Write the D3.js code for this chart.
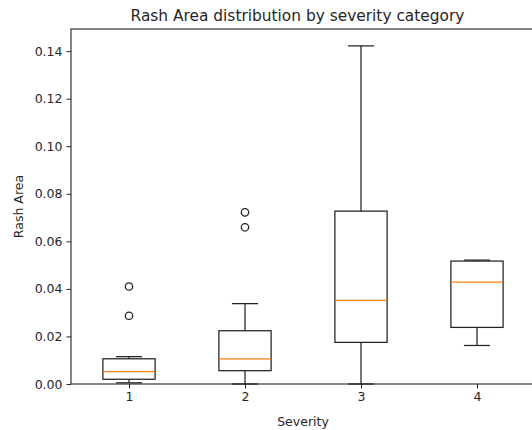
<!DOCTYPE html>
<html>
<head>
<meta charset="utf-8" />
<title>Rash Area distribution by severity category</title>
<script src="https://d3js.org/d3.v7.min.js"></script>
<style>
  body { margin: 0; background: #fff; }
  text { font-family: "DejaVu Sans", sans-serif; fill: #262626; }
</style>
</head>
<body>
<div id="chart"></div>
<script>
// box statistics
const categories = ["1", "2", "3", "4"];
const whiskerLow = [0.0005, 0.0, 0.0, 0.0162];
const q1 = [0.0020, 0.0056, 0.0175, 0.0238];
const median = [0.0052, 0.0106, 0.0352, 0.0428];
const q3 = [0.0106, 0.0224, 0.0727, 0.0517];
const whiskerHigh = [0.0115, 0.0338, 0.1422, 0.0521];
const outliers = [[0.0287, 0.0410], [0.0659, 0.0722], [], []];
const yTicks = [0, 0.02, 0.04, 0.06, 0.08, 0.10, 0.12, 0.14];

const W = 532, H = 430;
const margin = { top: 29, right: -3, bottom: 46, left: 71 };
const width = W - margin.left - margin.right,
      height = H - margin.top - margin.bottom;

const svg = d3.select("#chart").append("svg")
    .attr("width", W).attr("height", H);
const g = svg.append("g")
    .attr("transform", `translate(${margin.left},${margin.top})`);

const x = d3.scaleLinear().domain([0.5, 4.5]).range([0, width]);
const y = d3.scaleLinear().domain([0, 0.1493]).range([height, 0]);
const boxW = 0.45, capW = 0.225;

// axes
const yAxis = g.append("g")
    .call(d3.axisLeft(y).tickValues(yTicks).tickFormat(d3.format(".2f")).tickSize(4.5).tickPadding(4));
const xAxis = g.append("g")
    .attr("transform", `translate(0,${height})`)
    .call(d3.axisBottom(x).tickValues([1, 2, 3, 4]).tickFormat((d, i) => categories[i]).tickSize(4.5).tickPadding(4));
[yAxis, xAxis].forEach(a => {
  a.select(".domain").remove();
  a.selectAll("line").attr("stroke", "#222").attr("stroke-width", 1);
  a.selectAll("text").style("font-size", "12.5px").attr("fill", "#262626");
});

// frame
g.append("rect")
    .attr("width", width).attr("height", height)
    .attr("fill", "none").attr("stroke", "#222").attr("stroke-width", 1.1);

const data = categories.map((c, i) => ({ i: i + 1, lo: whiskerLow[i], q1: q1[i], med: median[i], q3: q3[i], hi: whiskerHigh[i], out: outliers[i] }));

const boxes = g.append("g").selectAll("g").data(data).join("g");
const stroke = "#222";

// whiskers
boxes.append("line")
    .attr("x1", d => x(d.i)).attr("x2", d => x(d.i))
    .attr("y1", d => y(d.q1)).attr("y2", d => y(d.lo))
    .attr("stroke", stroke).attr("stroke-width", 1.25);
boxes.append("line")
    .attr("x1", d => x(d.i)).attr("x2", d => x(d.i))
    .attr("y1", d => y(d.q3)).attr("y2", d => y(d.hi))
    .attr("stroke", stroke).attr("stroke-width", 1.25);
// caps
["lo", "hi"].forEach(k => {
  boxes.append("line")
      .attr("x1", d => x(d.i - capW / 2)).attr("x2", d => x(d.i + capW / 2))
      .attr("y1", d => y(d[k])).attr("y2", d => y(d[k]))
      .attr("stroke", stroke).attr("stroke-width", 1.25);
});
// box
boxes.append("rect")
    .attr("x", d => x(d.i - boxW / 2))
    .attr("width", d => x(d.i + boxW / 2) - x(d.i - boxW / 2))
    .attr("y", d => y(d.q3))
    .attr("height", d => y(d.q1) - y(d.q3))
    .attr("fill", "none").attr("stroke", stroke).attr("stroke-width", 1.25);
// median
boxes.append("line")
    .attr("x1", d => x(d.i - boxW / 2)).attr("x2", d => x(d.i + boxW / 2))
    .attr("y1", d => y(d.med)).attr("y2", d => y(d.med))
    .attr("stroke", "#ff7f0e").attr("stroke-width", 1.25);
// fliers
boxes.selectAll("circle").data(d => d.out.map(v => ({ i: d.i, v })))
  .join("circle")
    .attr("cx", d => x(d.i)).attr("cy", d => y(d.v))
    .attr("r", 3.7)
    .attr("fill", "none").attr("stroke", stroke).attr("stroke-width", 1.25);

// labels
svg.append("text")
    .attr("x", 297.5).attr("y", 21)
    .attr("text-anchor", "middle").style("font-size", "15.4px")
    .text("Rash Area distribution by severity category");
svg.append("text")
    .attr("x", margin.left + width / 2).attr("y", 426)
    .attr("text-anchor", "middle").style("font-size", "12.5px")
    .text("Severity");
svg.append("text")
    .attr("transform", `translate(23,${margin.top + height / 2}) rotate(-90)`)
    .attr("text-anchor", "middle").style("font-size", "12.5px")
    .text("Rash Area");
</script>
</body>
</html>
